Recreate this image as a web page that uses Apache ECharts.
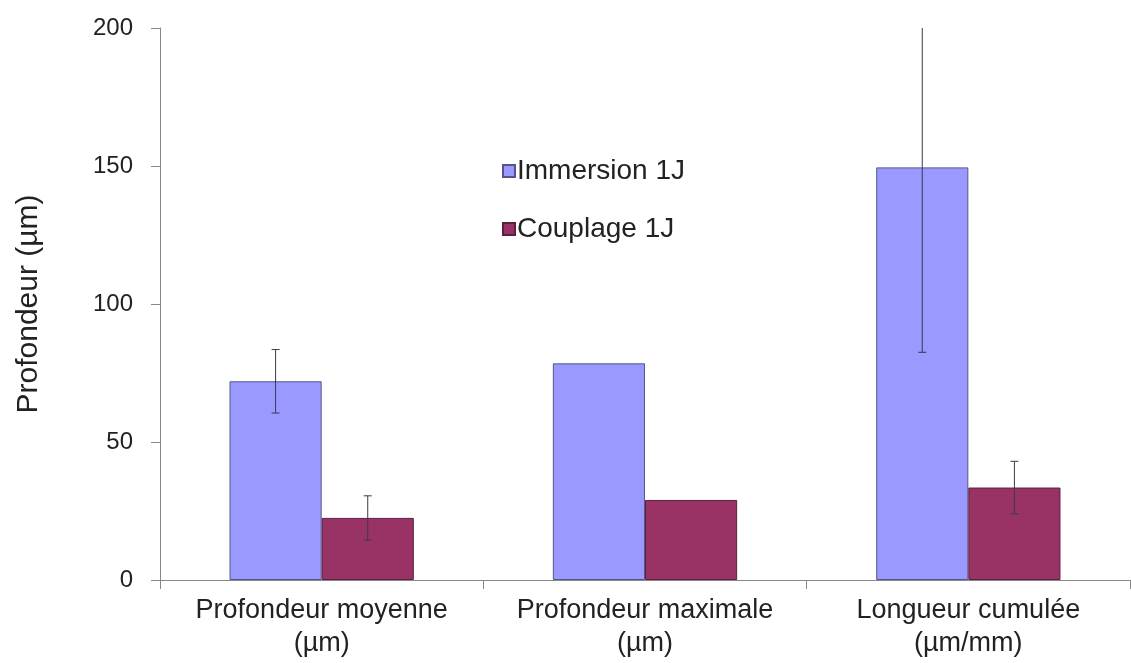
<!DOCTYPE html>
<html>
<head>
<meta charset="utf-8">
<script src="https://cdn.jsdelivr.net/npm/echarts@6/dist/echarts.min.js"></script>
<style>html,body{margin:0;padding:0;background:#fff}#c{width:1131px;height:663px}</style>
</head>
<body>
<div id="c"></div>
<script>
const categories = ['Profondeur moyenne\n(µm)', 'Profondeur maximale\n(µm)', 'Longueur cumulée\n(µm/mm)'];
const seriesNames = ['Immersion 1J', 'Couplage 1J'];
const immersion = [72, 78.5, 149.5];
const immersionErr = [11.5, 0, 67];
const couplage = [22.5, 29, 33.5];
const couplageErr = [8, 0, 9.5];
const yTicks = [0, 50, 100, 150, 200];

const catGap = 0.43;
function errData(vals, errs) {
  return vals.map((v, i) => [i, v - errs[i], v + errs[i], errs[i]]);
}
function errRender(side) {
  return function (params, api) {
    const err = api.value(3);
    if (!err) return;
    const i = api.value(0);
    const catW = api.size([1, 0])[0];
    const bw = catW * (1 - catGap) / 2;
    const lo = api.coord([i, api.value(1)]);
    const hi = api.coord([i, api.value(2)]);
    const x = lo[0] + side * bw / 2;
    const cap = 4;
    const style = { stroke: '#3a3a4a', lineWidth: 1 };
    return {
      type: 'group',
      children: [
        { type: 'line', shape: { x1: x, y1: lo[1], x2: x, y2: hi[1] }, style },
        { type: 'line', shape: { x1: x - cap, y1: lo[1], x2: x + cap, y2: lo[1] }, style },
        { type: 'line', shape: { x1: x - cap, y1: hi[1], x2: x + cap, y2: hi[1] }, style }
      ]
    };
  };
}

const chart = echarts.init(document.getElementById('c'));
chart.setOption({
  animation: false,
  backgroundColor: '#fff',
  textStyle: { fontFamily: 'Liberation Sans, Arial, sans-serif' },
  grid: { left: 160, right: 1, top: 28, bottom: 83, containLabel: false },
  legend: {
    data: seriesNames,
    orient: 'vertical',
    left: 497,
    top: 152,
    itemGap: 30,
    itemWidth: 12,
    itemHeight: 12,
    icon: 'rect',
    textStyle: { fontSize: 28, color: '#222', padding: [0, 0, 0, -3] }
  },
  xAxis: {
    type: 'category',
    data: categories,
    axisLine: { lineStyle: { color: '#888', width: 1 } },
    axisTick: { show: true, length: 9, lineStyle: { color: '#888' } },
    axisLabel: { fontSize: 27, color: '#222', margin: 14, lineHeight: 33,
      interval: 0, hideOverlap: false }
  },
  yAxis: {
    type: 'value',
    min: 0, max: 200, interval: 50,
    name: 'Profondeur (µm)',
    nameLocation: 'middle',
    nameGap: 116,
    nameTextStyle: { fontSize: 30, color: '#222' },
    axisLine: { show: true, lineStyle: { color: '#888', width: 1 } },
    axisTick: { show: true, length: 9, lineStyle: { color: '#888' } },
    axisLabel: { fontSize: 24, color: '#222', margin: 27,
      formatter: v => yTicks.includes(v) ? String(v) : '' },
    splitLine: { show: false }
  },
  series: [
    {
      name: seriesNames[0], type: 'bar', data: immersion,
      barGap: '0%', barCategoryGap: (catGap * 100) + '%',
      itemStyle: { color: '#9999FF', borderColor: '#55558a', borderWidth: 1 }
    },
    {
      name: seriesNames[1], type: 'bar', data: couplage,
      itemStyle: { color: '#993366', borderColor: '#5a2040', borderWidth: 1 }
    },
    {
      type: 'custom', renderItem: errRender(-1), data: errData(immersion, immersionErr),
      encode: { x: 0, y: [1, 2] }, clip: true, z: 10, silent: true
    },
    {
      type: 'custom', renderItem: errRender(1), data: errData(couplage, couplageErr),
      encode: { x: 0, y: [1, 2] }, clip: true, z: 10, silent: true
    }
  ]
});
</script>
</body>
</html>
